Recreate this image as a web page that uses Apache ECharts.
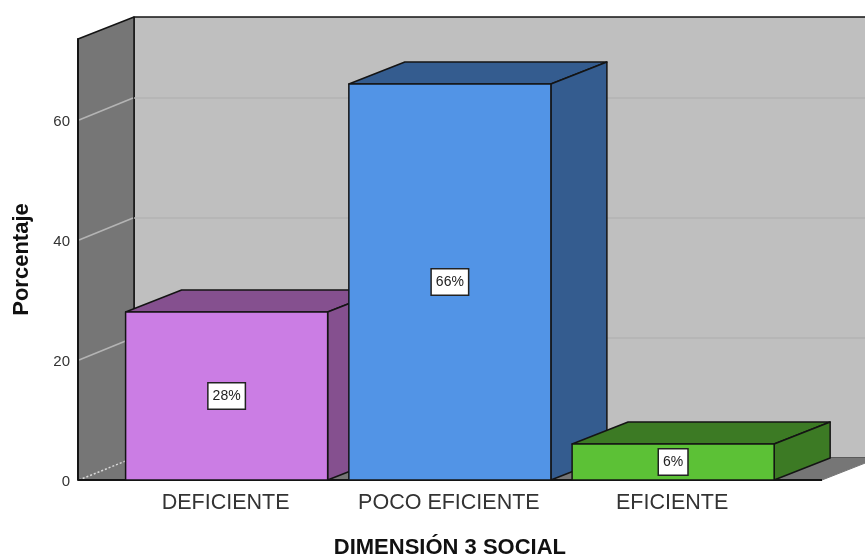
<!DOCTYPE html>
<html>
<head>
<meta charset="utf-8">
<style>html,body{margin:0;padding:0;background:#fff}#chart{width:865px;height:556px}</style>
<script src="https://cdn.jsdelivr.net/npm/echarts@6/dist/echarts.min.js"></script>
</head>
<body>
<div id="chart"></div>
<script>
// Survey result: share of respondents per rating level
const categories = ['DEFICIENTE', 'POCO EFICIENTE', 'EFICIENTE'];
const percentages = [28, 66, 6];
const gridValues = [0, 20, 40, 60];
const yLimit = 73.5;

const frontColors = ['#cb7de4', '#5294e6', '#5cc136'];
const shadeColors = ['#85508f', '#345c8f', '#3c7a24'];

// Extruded look: every box is pushed back by the same screen offset
const DEPTH_X = 56;
const DEPTH_Y = -22;
const WALL_OUTSET = 37;
const EDGE = '#141414';

function poly(points, fill, stroke, width) {
  return {
    type: 'polygon',
    shape: { points: points },
    style: { fill: fill, stroke: stroke || EDGE, lineWidth: width === undefined ? 1.5 : width, lineJoin: 'round' }
  };
}

function renderRoom(params, api) {
  const sys = params.coordSys;
  const x0 = sys.x - WALL_OUTSET;
  const base = api.coord([0, 0])[1];
  const top = api.coord([0, yLimit])[1];
  const frontRight = x0 + 744;
  const far = api.getWidth() + DEPTH_X;
  const children = [
    // back wall
    poly([[x0 + DEPTH_X, top + DEPTH_Y], [far, top + DEPTH_Y], [far, base + DEPTH_Y], [x0 + DEPTH_X, base + DEPTH_Y]], '#bfbfbf'),
    // floor
    poly([[x0, base], [x0 + DEPTH_X, base + DEPTH_Y], [far, base + DEPTH_Y], [frontRight + DEPTH_X, base + DEPTH_Y], [frontRight, base]], '#767676', '#767676', 1),
    // left wall, its lower edge is left open for the dotted floor line
    poly([[x0, top], [x0 + DEPTH_X, top + DEPTH_Y], [x0 + DEPTH_X, base + DEPTH_Y], [x0, base]], '#767676', '#767676', 0),
    {
      type: 'polyline',
      shape: { points: [[x0, base], [x0, top], [x0 + DEPTH_X, top + DEPTH_Y], [x0 + DEPTH_X, base + DEPTH_Y]] },
      style: { fill: null, stroke: EDGE, lineWidth: 1.5, lineJoin: 'round' }
    }
  ];
  gridValues.forEach(function (v) {
    const y = api.coord([0, v])[1];
    if (v !== 0) {
      children.push({
        type: 'line',
        shape: { x1: x0 + DEPTH_X, y1: y + DEPTH_Y, x2: far, y2: y + DEPTH_Y },
        style: { stroke: '#b3b3b3', lineWidth: 1.5 }
      });
    }
    children.push({
      type: 'line',
      shape: { x1: x0 + 1, y1: y, x2: x0 + DEPTH_X - 1, y2: y + DEPTH_Y },
      style: { stroke: v === 0 ? '#d8d8d8' : '#b4b4b4', lineWidth: 1.5, lineDash: v === 0 ? [2, 2] : null }
    });
  });
  // front edge of the floor
  children.push({
    type: 'line',
    shape: { x1: x0, y1: base, x2: frontRight, y2: base },
    style: { stroke: EDGE, lineWidth: 2 }
  });
  return { type: 'group', children: children };
}

function renderBox(params, api) {
  const i = params.dataIndex;
  const center = api.value(0);
  const value = api.value(1);
  const foot = api.coord([center, 0]);
  const head = api.coord([center, value]);
  const w = api.size([1, 0])[0] * 0.905;
  const l = foot[0] - w / 2;
  const r = foot[0] + w / 2;
  const t = head[1];
  const b = foot[1];
  return {
    type: 'group',
    children: [
      poly([[l, t], [l + DEPTH_X, t + DEPTH_Y], [r + DEPTH_X, t + DEPTH_Y], [r, t]], shadeColors[i]),
      poly([[r, t], [r + DEPTH_X, t + DEPTH_Y], [r + DEPTH_X, b + DEPTH_Y], [r, b]], shadeColors[i]),
      poly([[l, t], [r, t], [r, b], [l, b]], frontColors[i]),
      {
        type: 'text',
        x: foot[0],
        y: (t + b) / 2,
        z2: 10,
        style: {
          text: value + '%',
          align: 'center',
          verticalAlign: 'middle',
          fontFamily: 'Liberation Sans',
          fontSize: 14,
          fill: '#222',
          backgroundColor: '#fff',
          borderColor: '#222',
          borderWidth: 1.5,
          padding: [6, 4, 5, 4]
        }
      }
    ]
  };
}

const chart = echarts.init(document.getElementById('chart'), null, { renderer: 'canvas' });
chart.setOption({
  animation: false,
  grid: { left: 115, right: 80.25, top: 39, bottom: 76, outerBoundsMode: 'none' },
  xAxis: {
    type: 'category',
    data: categories,
    axisLine: { show: false },
    axisTick: { show: false },
    axisLabel: { interval: 0, hideOverlap: false, margin: 12, padding: [0, 2, 0, 0], fontFamily: 'Liberation Sans', fontSize: 21.5, color: '#333' },
    name: 'DIMENSIÓN 3 SOCIAL',
    nameLocation: 'middle',
    nameGap: 57,
    nameTextStyle: { fontFamily: 'Liberation Sans', fontWeight: 'bold', fontSize: 22, color: '#111' }
  },
  yAxis: {
    type: 'value',
    min: 0,
    max: yLimit,
    interval: 20,
    offset: WALL_OUTSET,
    z: 5,
    splitLine: { show: false },
    axisTick: { show: false },
    axisLine: { show: true, lineStyle: { color: EDGE, width: 2 } },
    axisLabel: { showMaxLabel: false, margin: 8, verticalAlign: 'top', lineHeight: 4, fontFamily: 'Liberation Sans', fontSize: 15, color: '#333' },
    name: 'Porcentaje',
    nameLocation: 'middle',
    nameGap: 45,
    nameTextStyle: { fontFamily: 'Liberation Sans', fontWeight: 'bold', fontSize: 22, color: '#111' }
  },
  series: [
    { type: 'custom', silent: true, clip: false, z: 1, data: [[0, 0]], renderItem: renderRoom },
    {
      type: 'custom',
      silent: true,
      clip: false,
      z: 2,
      encode: { x: 0, y: 1 },
      data: percentages.map(function (v, i) { return [i, v]; }),
      renderItem: renderBox
    }
  ]
});
</script>
</body>
</html>
